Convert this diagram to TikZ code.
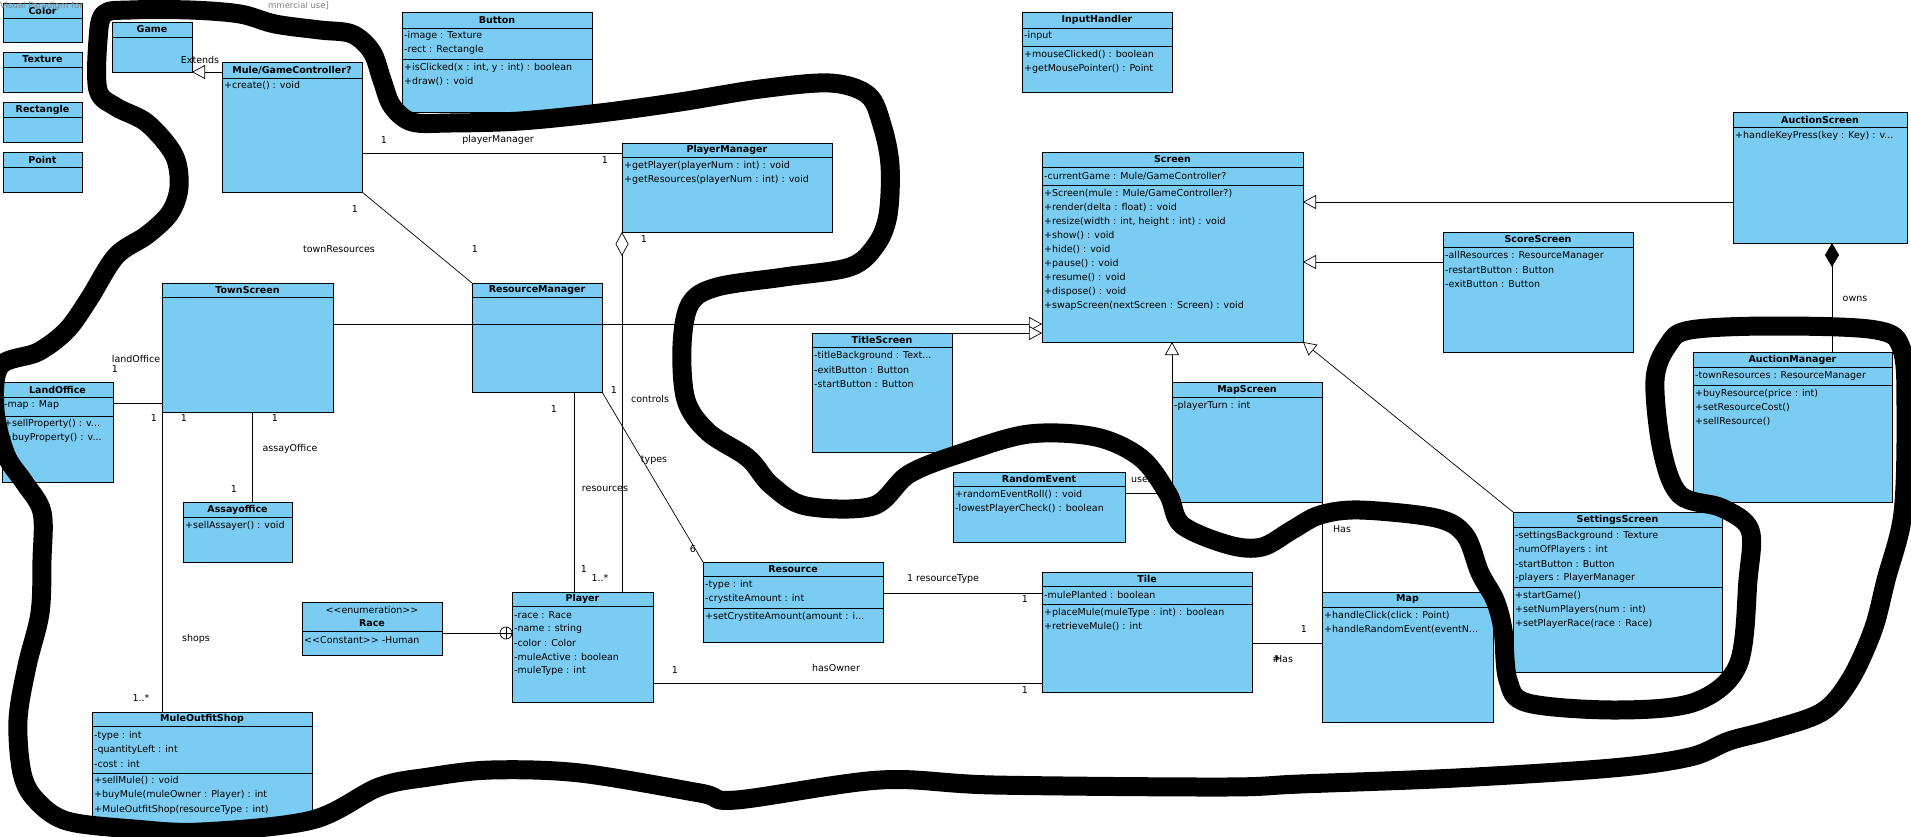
\documentclass[tikz,border=0pt]{standalone}
\usepackage{fontspec}
\setmainfont{DejaVu Sans}
\usepackage{xcolor}
\usepackage{tikz}
\usetikzlibrary{
    positioning,
    calc,
    arrows.meta
}
\definecolor{umlblue}{RGB}{122,204,242}
\tikzset{
  classbox/.style = {
      draw,
      rectangle,
      fill=umlblue,
      line width=1pt,
      anchor=north west,
      inner sep=0pt,
      outer sep=0pt
  },
  boxrule/.style = {
      line width=1pt
  },
  classtitle/.style = {
      font=\bfseries\fontsize{9.5}{13}\selectfont,
      align=center,
      inner sep=0pt
  },
  member/.style = {
      anchor=west,
      font=\fontsize{9.5}{11}\selectfont,
      inner sep=0pt
  },
  rolelabel/.style = {
      font=\fontsize{9.5}{11}\selectfont,
      inner sep=0pt
  },
  watermark/.style = {
      anchor=west,
      text=black!50,
      font=\fontsize{8.5}{9}\selectfont,
      inner sep=0pt
  },
  assoc/.style = {
      draw,
      line width=0.7pt
  },
  generalize/.style = {
      assoc,
      -{Triangle[open, length=13pt, width=14pt, fill=white]}
  },
  aggregate/.style = {
      assoc,
      {Diamond[open, length=24pt, width=13pt, fill=white]}-
  },
  compose/.style = {
      assoc,
      -{Diamond[length=24pt, width=14pt]}
  },
  scribble/.style = {
      line width=19pt,
      line join=round,
      line cap=round
  }
}
% class box: name, x, y, width, height, header height, title
\newcommand{\umlclass}[7]{%
  \node[classbox, minimum width=#4pt, minimum height=#5pt] (#1) at (#2,#3) {};
  \node[classtitle] (#1-title) at ($(#1.north west)+(#4/2,#6/2)$) {#7};
  \draw[boxrule] ($(#1.north west)+(0,#6)$) -- ($(#1.north east)+(0,#6)$);
}
\newcommand{\umlsep}[2]{%
  \draw[boxrule] ($(#1.north west)+(0,#2)$) -- ($(#1.north east)+(0,#2)$);
}
\newcommand{\umlrow}[3]{%
  \node[member] (#1-#2) at ($(#1.north west)+(2,#2)$) {#3};
}

\begin{document}
\begin{tikzpicture}[x=1pt, y=-1pt]
    \fill[white] (0,0) rectangle (1911,836);
    \useasboundingbox (0,0) rectangle (1911,836);
    % Classes
    \umlclass{Color}{3}{3}{79}{39}{15}{Color}
    \umlclass{Texture}{3}{52}{79}{40}{15}{Texture}
    \umlclass{Rectangle}{3}{102}{79}{40}{15}{Rectangle}
    \umlclass{Point}{3}{152}{79}{40}{15}{Point}
    \umlclass{Game}{112}{22}{80}{50}{15}{Game}
    \umlclass{Mule}{222}{62}{140}{130}{16}{Mule/GameController?}
    \umlrow{Mule}{24}{+create() : void}
    \umlclass{Button}{402}{12}{190}{100}{16}{Button}
    \umlsep{Button}{47}
    \umlrow{Button}{24}{-image : Texture}
    \umlrow{Button}{38}{-rect : Rectangle}
    \umlrow{Button}{56}{+isClicked(x : int, y : int) : boolean}
    \umlrow{Button}{70}{+draw() : void}
    \umlclass{InputHandler}{1022}{12}{150}{80}{16}{InputHandler}
    \umlsep{InputHandler}{34}
    \umlrow{InputHandler}{24}{-input}
    \umlrow{InputHandler}{43}{+mouseClicked() : boolean}
    \umlrow{InputHandler}{57}{+getMousePointer() : Point}
    \umlclass{PlayerManager}{622}{143}{210}{89}{14}{PlayerManager}
    \umlrow{PlayerManager}{23}{+getPlayer(playerNum : int) : void}
    \umlrow{PlayerManager}{37}{+getResources(playerNum : int) : void}
    \umlclass{Screen}{1042}{152}{261}{190}{15}{Screen}
    \umlsep{Screen}{33}
    \umlrow{Screen}{24}{-currentGame : Mule/GameController?}
    \umlrow{Screen}{42}{+Screen(mule : Mule/GameController?)}
    \umlrow{Screen}{56}{+render(delta : float) : void}
    \umlrow{Screen}{70}{+resize(width : int, height : int) : void}
    \umlrow{Screen}{84}{+show() : void}
    \umlrow{Screen}{98}{+hide() : void}
    \umlrow{Screen}{112}{+pause() : void}
    \umlrow{Screen}{126}{+resume() : void}
    \umlrow{Screen}{140}{+dispose() : void}
    \umlrow{Screen}{154}{+swapScreen(nextScreen : Screen) : void}
    \umlclass{AuctionScreen}{1733}{112}{174}{131}{15}{AuctionScreen}
    \umlrow{AuctionScreen}{24}{+handleKeyPress(key : Key) : v...}
    \umlclass{ScoreScreen}{1443}{232}{190}{120}{15}{ScoreScreen}
    \umlrow{ScoreScreen}{24}{-allResources : ResourceManager}
    \umlrow{ScoreScreen}{38}{-restartButton : Button}
    \umlrow{ScoreScreen}{52}{-exitButton : Button}
    \umlclass{TownScreen}{162}{283}{171}{129}{14}{TownScreen}
    \umlclass{ResourceManager}{472}{283}{130}{109}{14}{ResourceManager}
    \umlclass{LandOffice}{2}{382}{111}{100}{15}{LandOffice}
    \umlsep{LandOffice}{34}
    \umlrow{LandOffice}{23}{-map : Map}
    \umlrow{LandOffice}{42}{+sellProperty() : v...}
    \umlrow{LandOffice}{56}{+buyProperty() : v...}
    \umlclass{Assayoffice}{183}{502}{109}{60}{15}{Assayoffice}
    \umlrow{Assayoffice}{24}{+sellAssayer() : void}
    \umlclass{Race}{302}{602}{140}{53}{29}{{\mdseries <\kern0pt<enumeration>\kern0pt>}\\Race}
    \umlrow{Race}{38}{<\kern0pt<Constant>\kern0pt> -Human}
    \umlclass{Player}{512}{592}{141}{110}{14}{Player}
    \umlrow{Player}{23}{-race : Race}
    \umlrow{Player}{37}{-name : string}
    \umlrow{Player}{51}{-color : Color}
    \umlrow{Player}{65}{-muleActive : boolean}
    \umlrow{Player}{79}{-muleType : int}
    \umlclass{MuleOutfitShop}{92}{712}{220}{116}{14}{MuleOutfitShop}
    \umlsep{MuleOutfitShop}{61}
    \umlrow{MuleOutfitShop}{24}{-type : int}
    \umlrow{MuleOutfitShop}{38}{-quantityLeft : int}
    \umlrow{MuleOutfitShop}{52}{-cost : int}
    \umlrow{MuleOutfitShop}{69}{+sellMule() : void}
    \umlrow{MuleOutfitShop}{83}{+buyMule(muleOwner : Player) : int}
    \umlrow{MuleOutfitShop}{98}{+MuleOutfitShop(resourceType : int)}
    \umlclass{TitleScreen}{812}{333}{140}{119}{14}{TitleScreen}
    \umlrow{TitleScreen}{23}{-titleBackground : Text...}
    \umlrow{TitleScreen}{37}{-exitButton : Button}
    \umlrow{TitleScreen}{51}{-startButton : Button}
    \umlclass{RandomEvent}{953}{472}{172}{70}{14}{RandomEvent}
    \umlrow{RandomEvent}{23}{+randomEventRoll() : void}
    \umlrow{RandomEvent}{37}{-lowestPlayerCheck() : boolean}
    \umlclass{MapScreen}{1172}{382}{150}{120}{15}{MapScreen}
    \umlrow{MapScreen}{24}{-playerTurn : int}
    \umlclass{Resource}{703}{562}{180}{80}{14}{Resource}
    \umlsep{Resource}{46}
    \umlrow{Resource}{23}{-type : int}
    \umlrow{Resource}{37}{-crystiteAmount : int}
    \umlrow{Resource}{55}{+setCrystiteAmount(amount : i...}
    \umlclass{Tile}{1042}{572}{210}{120}{14}{Tile}
    \umlsep{Tile}{32}
    \umlrow{Tile}{23}{-mulePlanted : boolean}
    \umlrow{Tile}{41}{+placeMule(muleType : int) : boolean}
    \umlrow{Tile}{55}{+retrieveMule() : int}
    \umlclass{Map}{1322}{592}{171}{130}{15}{Map}
    \umlrow{Map}{24}{+handleClick(click : Point)}
    \umlrow{Map}{38}{+handleRandomEvent(eventN...}
    \umlclass{SettingsScreen}{1513}{512}{209}{160}{15}{SettingsScreen}
    \umlsep{SettingsScreen}{75}
    \umlrow{SettingsScreen}{24}{-settingsBackground : Texture}
    \umlrow{SettingsScreen}{38}{-numOfPlayers : int}
    \umlrow{SettingsScreen}{52}{-startButton : Button}
    \umlrow{SettingsScreen}{66}{-players : PlayerManager}
    \umlrow{SettingsScreen}{84}{+startGame()}
    \umlrow{SettingsScreen}{98}{+setNumPlayers(num : int)}
    \umlrow{SettingsScreen}{112}{+setPlayerRace(race : Race)}
    \umlclass{AuctionManager}{1693}{352}{199}{150}{15}{AuctionManager}
    \umlsep{AuctionManager}{33}
    \umlrow{AuctionManager}{24}{-townResources : ResourceManager}
    \umlrow{AuctionManager}{42}{+buyResource(price : int)}
    \umlrow{AuctionManager}{56}{+setResourceCost()}
    \umlrow{AuctionManager}{70}{+sellResource()}
    % Watermark
    \node[watermark] (wmLeft) at (0,6) {Visual Paradigm for};
    \node[watermark] (wmRight) at (268,6) {mmercial use]};
    % Edges
    \draw[generalize] (Mule.west |- Game.south east) -- (Game.south east);
    \coordinate (pmLeft) at ([yshift=-10pt]PlayerManager.north west);
    \draw[assoc] (Mule.east |- pmLeft) -- (pmLeft);
    \draw[assoc] (Mule.south east) -- (ResourceManager.north west);
    \coordinate (townRight) at ([yshift=-41pt]TownScreen.north east);
    \draw[generalize] (townRight) -- (townRight -| Screen.west);
    \draw[generalize] (TitleScreen.north east) -- (TitleScreen.north east -| Screen.west);
    \coordinate (auctionLeft) at ([yshift=-90pt]AuctionScreen.north west);
    \draw[generalize] (auctionLeft) -- (auctionLeft -| Screen.east);
    \coordinate (scoreLeft) at ([yshift=-30pt]ScoreScreen.north west);
    \draw[generalize] (scoreLeft) -- (scoreLeft -| Screen.east);
    \draw[generalize] (MapScreen.north west) -- (MapScreen.north west |- Screen.south);
    \draw[generalize] (SettingsScreen.north west) -- (Screen.south east);
    \coordinate (ownsTop) at ([xshift=99pt]AuctionScreen.south west);
    \draw[compose] (ownsTop |- AuctionManager.north) -- (ownsTop);
    \coordinate (landRight) at ([yshift=-21pt]LandOffice.north east);
    \draw[assoc] (landRight) -- (landRight -| TownScreen.west);
    \coordinate (assayTop) at ([xshift=69pt]Assayoffice.north west);
    \draw[assoc] (assayTop) -- (assayTop |- TownScreen.south);
    \draw[assoc] (TownScreen.south west) -- (TownScreen.south west |- MuleOutfitShop.north);
    \coordinate (playerRes) at ([xshift=62pt]Player.north west);
    \draw[assoc] (playerRes |- ResourceManager.south) -- (playerRes);
    \draw[aggregate] (PlayerManager.south west) -- (PlayerManager.south west |- Player.north);
    \draw[assoc] (ResourceManager.south east) -- (Resource.north west);
    \coordinate (raceRight) at ([yshift=-31pt]Race.north east);
    \draw[assoc] (raceRight) -- (raceRight -| Player.west);
    \path (raceRight -| Player.west) ++(-6,0) coordinate (nest);
    \draw[assoc, fill=white] (nest) circle (6pt);
    \draw[assoc] ([xshift=-6pt]nest) -- ([xshift=6pt]nest)
                 ([yshift=-6pt]nest) -- ([yshift=6pt]nest);
    \coordinate (resRight) at ([yshift=-31pt]Resource.north east);
    \draw[assoc] (resRight) -- (resRight -| Tile.west);
    \coordinate (ownerRight) at ([yshift=-91pt]Player.north east);
    \draw[assoc] (ownerRight) -- (ownerRight -| Tile.west);
    \coordinate (tileRight) at ([yshift=-71pt]Tile.north east);
    \draw[assoc] (tileRight) -- (tileRight -| Map.west);
    \draw[assoc] (MapScreen.south east) -- (Map.north west);
    \coordinate (eventRight) at ([yshift=-21pt]RandomEvent.north east);
    \draw[assoc] (eventRight) -- (eventRight -| MapScreen.west);
    % Labels
    \node[rolelabel] (lExtends) at (200,60) {Extends};
    \node[rolelabel] (lPm1) at (384,140) {1};
    \node[rolelabel] (lPm) at (498,140) {playerManager};
    \node[rolelabel] (lPm2) at (605,160) {1};
    \node[rolelabel] (lTr1) at (355,209) {1};
    \node[rolelabel] (lTr) at (339,249) {townResources};
    \node[rolelabel] (lTr2) at (475,249) {1};
    \node[rolelabel] (lLand) at (136,359) {landOffice};
    \node[rolelabel] (lLand1) at (115,369) {1};
    \node[rolelabel] (lLand2) at (154,418) {1};
    \node[rolelabel] (lShop1) at (184,418) {1};
    \node[rolelabel] (lAssay1) at (275,418) {1};
    \node[rolelabel] (lAssay) at (290,449) {assayOffice};
    \node[rolelabel] (lAssay2) at (234,489) {1};
    \node[rolelabel] (lShops) at (196,639) {shops};
    \node[rolelabel] (lShop2) at (141,698) {1..*};
    \node[rolelabel] (lRes1) at (554,409) {1};
    \node[rolelabel] (lRes) at (605,489) {resources};
    \node[rolelabel] (lRes2) at (584,569) {1};
    \node[rolelabel] (lCtl1) at (644,239) {1};
    \node[rolelabel] (lCtl) at (650,399) {controls};
    \node[rolelabel] (lCtl2) at (600,578) {1..*};
    \node[rolelabel] (lTyp1) at (614,390) {1};
    \node[rolelabel] (lTyp) at (654,460) {types};
    \node[rolelabel] (lTyp2) at (693,549) {6};
    \node[rolelabel] (lRt) at (943,579) {1 resourceType};
    \node[rolelabel] (lRt2) at (1025,599) {1};
    \node[rolelabel] (lOwn1) at (675,670) {1};
    \node[rolelabel] (lOwn) at (836,668) {hasOwner};
    \node[rolelabel] (lOwn2) at (1025,690) {1};
    \node[rolelabel] (lMap1) at (1304,629) {1};
    \node[rolelabel] (lMapHas) at (1284,659) {Has};
    \node[rolelabel] (lMapHash) at (1276,659) {\#};
    \node[rolelabel] (lHas) at (1342,529) {Has};
    \node[rolelabel] (lUses) at (1142,480) {uses};
    \node[rolelabel] (lOwns) at (1855,299) {owns};
    % Scribble
    \draw[scribble] plot[smooth cycle, tension=0.55] coordinates {
      (98,40) (104,14) (130,10) (190,10) (240,14) (275,24) (320,30)
      (352,34) (372,52) (382,80) (392,106) (412,122) (450,123)
      (520,121) (600,113) (680,102) (760,89) (830,83) (868,95)
      (882,125) (890,165) (888,215) (876,245) (850,267) (784,277)
      (717,287) (690,304) (682,346) (686,400) (708,432) (748,458)
      (771,485) (806,506) (873,506) (909,474) (962,453) (1029,434)
      (1096,437) (1141,458) (1168,494) (1182,525) (1229,545)
      (1262,547) (1292,530) (1320,515) (1360,510) (1436,518)
      (1465,535) (1480,573) (1495,600) (1503,630) (1508,680)
      (1528,703) (1617,710) (1695,702) (1738,665) (1748,580)
      (1750,530) (1722,508) (1680,495) (1662,450) (1655,380)
      (1668,345) (1690,330) (1773,326) (1876,330) (1902,350)
      (1906,413) (1903,513) (1886,580) (1873,630) (1850,680)
      (1822,712) (1770,730) (1729,741) (1690,757) (1612,768)
      (1456,778) (1300,784) (1224,787) (994,785) (880,780)
      (736,800) (700,793) (580,773) (491,770) (429,777) (379,787)
      (312,820) (201,832) (134,829) (67,821) (36,800) (22,773)
      (18,720) (27,666) (40,613) (42,560) (42,512) (24,482)
      (6,455) (-5,410) (0,366) (38,352) (67,330) (89,299)
      (116,256) (147,235) (170,213) (179,187) (174,155) (147,123)
      (116,107) (98,90)
    };
\end{tikzpicture}
\end{document}
